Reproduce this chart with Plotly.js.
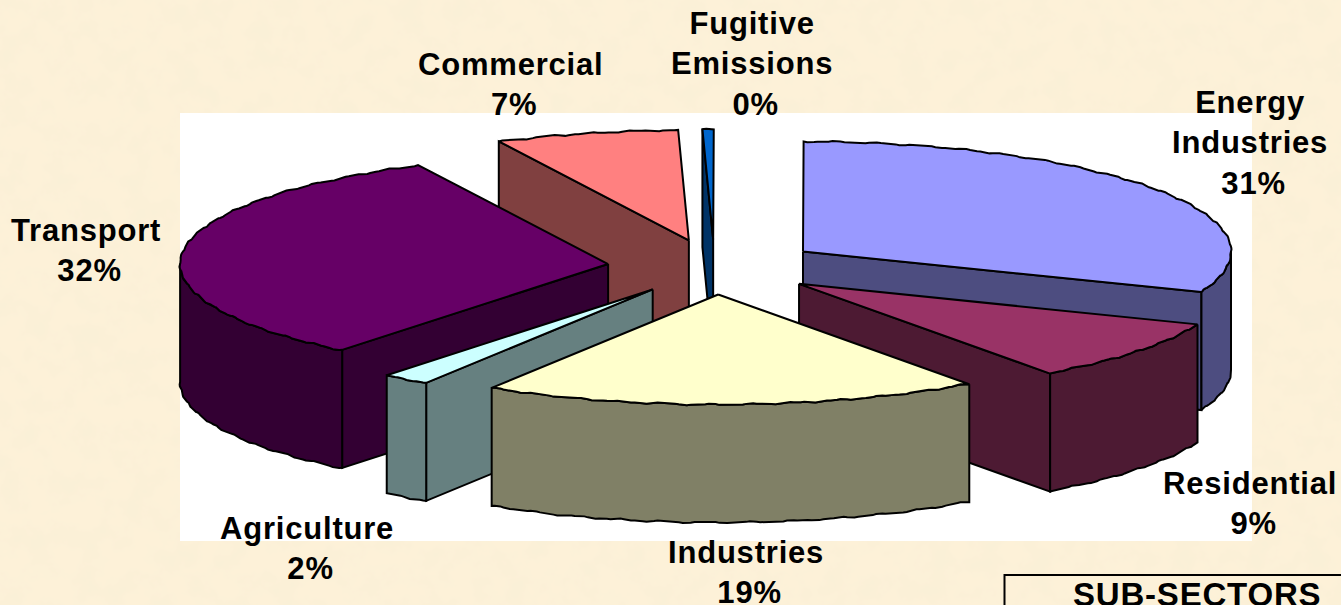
<!DOCTYPE html>
<html>
<head>
<meta charset="utf-8">
<script src="https://cdn.plot.ly/plotly-3.0.1.min.js"></script>
<style>
html,body{margin:0;padding:0;width:1341px;height:605px;overflow:hidden;background-color:#fdf1d8;}
body{background-image:url("data:image/svg+xml,%3Csvg xmlns='http://www.w3.org/2000/svg' width='1341' height='605'%3E%3Cfilter id='a' x='0' y='0' width='100%25' height='100%25'%3E%3CfeTurbulence type='fractalNoise' baseFrequency='0.04' numOctaves='5' seed='7'/%3E%3CfeColorMatrix values='0 0 0 0 0.96 0 0 0 0 0.87 0 0 0 0 0.68 3 0 0 0 -1.15'/%3E%3C/filter%3E%3Crect width='1341' height='605' filter='url(%23a)'/%3E%3C/svg%3E");}
#chart{width:1341px;height:605px;}
.annotation-text{letter-spacing:0.8px;}
</style>
</head>
<body>
<div id="chart"></div>
<script>
// ---- chart data ----
const categories = ['Energy<br>Industries', 'Residential', 'Industries', 'Agriculture', 'Transport', 'Commercial', 'Fugitive<br>Emissions'];
const shares     = [31, 9, 18.9, 1.8, 32, 6.9, 0.4];
const topColors  = ['#9999ff', '#993366', '#ffffcc', '#ccffff', '#660066', '#ff8080', '#0066cc'];
const sideColors = ['#4d4d80', '#4d1a33', '#808066', '#668080', '#330033', '#804040', '#003366'];
const labelX     = [1250, 1250, 746, 307, 86, 510, 752];
const labelY     = [143, 503, 572, 548, 250, 84, 64];

// ---- projection of the exploded 3D pie (page pixels) ----
const CX = 714.5, CY = 267, RX = 428, RY = 110, DEPTH = 118, EXPLODE = 107;
const paintOrder = [6, 5, 0, 4, 3, 1, 2];
const rad = d => d * Math.PI / 180;

const total = shares.reduce((a, b) => a + b, 0);
let acc = 0;
const slices = shares.map((v, i) => {
  const start = acc / total * 360;
  acc += v;
  const end = acc / total * 360;
  const mid = (start + end) / 2;
  return {i, start, end,
    ax: CX + EXPLODE * Math.sin(rad(mid)),
    ay: CY - EXPLODE * Math.cos(rad(mid)) * RY / RX};
});

function rimPoint(s, a, drop) {
  const wobX = 0.6 * Math.cos(rad(a * 61));
  const wobY = 0.6 * Math.sin(rad(a * 61)) + 0.4 * Math.sin(rad(a * 143));
  return [s.ax + RX * Math.sin(rad(a)) + wobX, s.ay - RY * Math.cos(rad(a)) + wobY + drop];
}
function arc(s, a0, a1, drop) {
  const n = Math.max(1, Math.ceil(Math.abs(a1 - a0) / 0.5));
  const out = [];
  for (let k = 0; k <= n; k++) out.push(rimPoint(s, a0 + (a1 - a0) * k / n, drop));
  return out;
}
function poly(points, fill) {
  const closed = points.concat([points[0]]);
  return {type: 'scatter', mode: 'lines', x: closed.map(p => p[0]), y: closed.map(p => p[1]),
    fill: 'toself', fillcolor: fill, line: {color: '#000000', width: 2, shape: 'linear'},
    hoverinfo: 'skip', showlegend: false};
}

const traces = [];
paintOrder.forEach(idx => {
  const s = slices[idx];
  const side = sideColors[idx];
  const apex = [s.ax, s.ay], apexB = [s.ax, s.ay + DEPTH];
  if (Math.sin(rad(s.start)) < 0) {
    const p = rimPoint(s, s.start, 0), q = rimPoint(s, s.start, DEPTH);
    traces.push(poly([apex, p, q, apexB], side));
  }
  if (Math.sin(rad(s.end)) > 0) {
    const p = rimPoint(s, s.end, 0), q = rimPoint(s, s.end, DEPTH);
    traces.push(poly([apex, p, q, apexB], side));
  }
  const a0 = Math.max(s.start, 90), a1 = Math.min(s.end, 270);
  if (a1 > a0) {
    traces.push(poly(arc(s, a0, a1, 0).concat(arc(s, a1, a0, DEPTH)), side));
  }
  traces.push(poly([apex].concat(arc(s, s.start, s.end, 0)), topColors[idx]));
});

const labelFont = {family: '"Liberation Sans", Arial, sans-serif', size: 31, color: '#000000', weight: 700};
const annotations = categories.map((c, i) => ({
  x: labelX[i], y: labelY[i], xref: 'x', yref: 'y', showarrow: false,
  xanchor: 'center', yanchor: 'middle', align: 'center', borderpad: 0,
  text: '<b>' + c + '<br>\u2009' + Math.round(shares[i]) + '%</b>', font: labelFont
}));
annotations.push({
  x: 1197, y: 594, xref: 'x', yref: 'y', showarrow: false, xanchor: 'center', yanchor: 'middle',
  text: '<b>SUB-SECTORS</b>', font: {family: '"Liberation Sans", Arial, sans-serif', size: 33, color: '#000000', weight: 700}
});

const layout = {
  width: 1341, height: 605,
  margin: {l: 0, r: 0, t: 0, b: 0, pad: 0},
  paper_bgcolor: 'rgba(0,0,0,0)', plot_bgcolor: 'rgba(0,0,0,0)',
  showlegend: false,
  xaxis: {range: [0, 1341], visible: false, fixedrange: true},
  yaxis: {range: [605, 0], visible: false, fixedrange: true},
  shapes: [
    {type: 'rect', layer: 'below', xref: 'x', yref: 'y', x0: 180, x1: 1252, y0: 113, y1: 541,
     fillcolor: '#ffffff', line: {width: 0}},
    {type: 'rect', layer: 'below', xref: 'x', yref: 'y', x0: 1004.5, x1: 1400, y0: 575, y1: 640,
     fillcolor: 'rgba(0,0,0,0)', line: {color: '#000000', width: 2}}
  ],
  annotations
};
Plotly.newPlot('chart', traces, layout, {displayModeBar: false, staticPlot: true});
</script>
</body>
</html>
